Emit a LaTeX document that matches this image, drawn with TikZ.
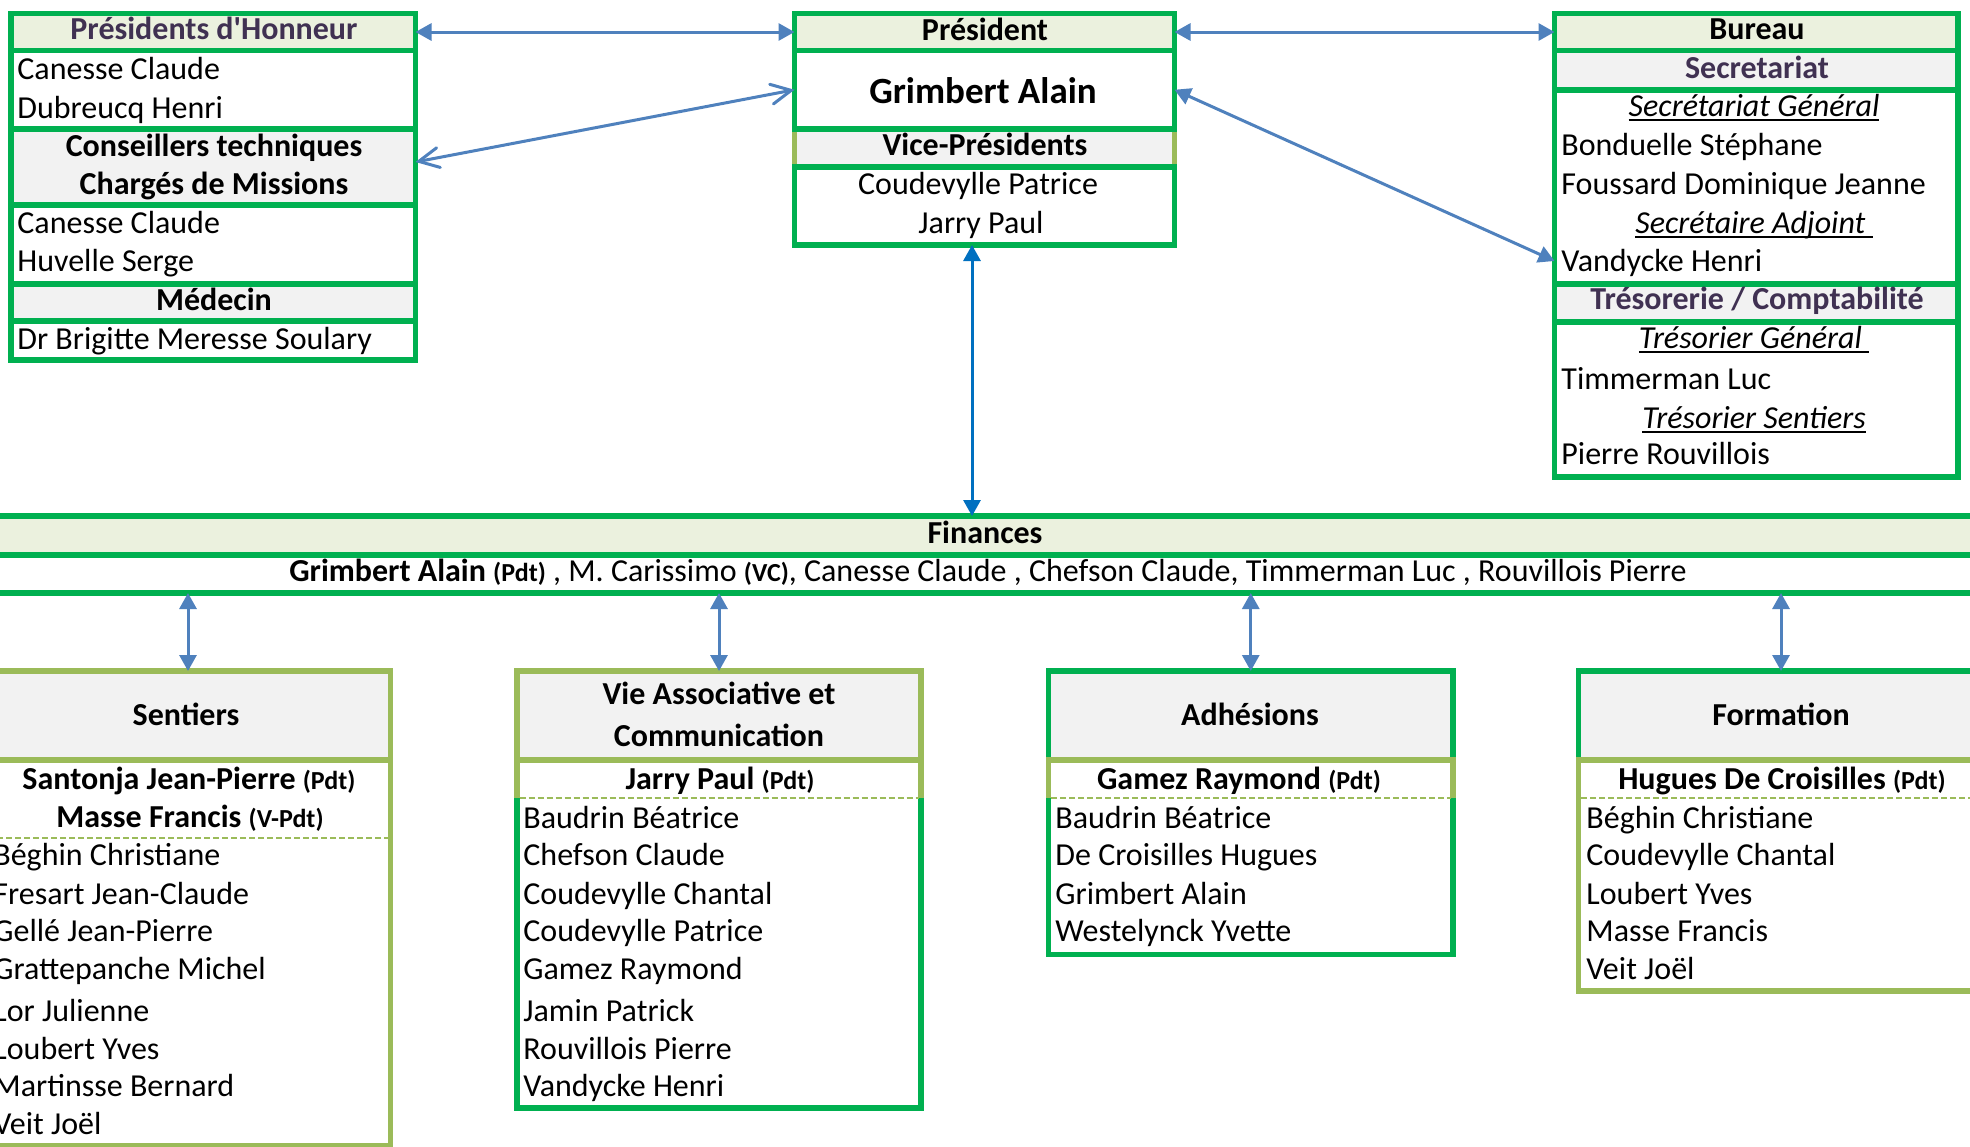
\documentclass[tikz,border=0pt]{standalone}
\usepackage{fontspec}
\setmainfont{Carlito}
\usetikzlibrary{arrows.meta}
\definecolor{grn}{HTML}{00B050}
\definecolor{olv}{HTML}{9BBB59}
\definecolor{lgr}{HTML}{EBF1DE}
\definecolor{gry}{HTML}{F2F2F2}
\definecolor{pur}{HTML}{403152}
\definecolor{abl}{HTML}{4F81BD}
\definecolor{bbl}{HTML}{0070C0}
\newsavebox\ulbox
\newcommand\myul[1]{\sbox\ulbox{#1}\rlap{\rule[-2.2pt]{\wd\ulbox}{1pt}}\usebox\ulbox}
\newcommand\nsz{\fontsize{16}{19}\selectfont}
\newcommand\psz{\fontsize{13}{15}\selectfont\bfseries}
\newcommand\rowrect[6]{%
  \pgfmathsetmacro\rcx{(#2+#4)/2}%
  \pgfmathsetmacro\rcy{(#3+#5)/2}%
  \pgfmathsetmacro\rw{abs(#4-#2)*0.5}%
  \pgfmathsetmacro\rh{abs(#5-#3)*0.5}%
  \node[fill=#6, inner sep=0pt, outer sep=0pt, minimum width=\rw pt, minimum height=\rh pt] (#1) at (\rcx,\rcy) {};}
\tikzset{
  nm/.style={anchor=base west, inner sep=0pt, font=\nsz, yshift=-0.7pt},
  ct/.style={anchor=base, inner sep=0pt, font=\nsz, yshift=-0.7pt},
  hd/.style={anchor=base, inner sep=0pt, font=\nsz\bfseries, yshift=-0.7pt},
  hdp/.style={hd, text=pur},
  gline/.style={draw=grn, line width=2.75pt, line cap=rect, line join=miter},
  oline/.style={draw=olv, line width=2.75pt, line cap=rect, line join=miter},
  dline/.style={draw=olv, line width=1pt, dash pattern=on 3pt off 1.5pt},
  arr/.style={draw=abl, line width=1.5pt, {Triangle[length=8pt,width=8.5pt]}-{Triangle[length=8pt,width=8.5pt]}},
  barr/.style={draw=bbl, line width=1.5pt, {Triangle[length=8pt,width=8.5pt]}-{Triangle[length=8pt,width=8.5pt]}},
  oarr/.style={draw=abl, line width=1.5pt, line cap=round, {Straight Barb[length=10pt,width=10pt,line cap=round]}-{Straight Barb[length=10pt,width=10pt,line cap=round]}}
}
\begin{document}
\begin{tikzpicture}[x=0.5pt,y=-0.5pt]
\useasboundingbox (0,0) rectangle (1970,1146);
\clip (0,0) rectangle (1970,1146);
\fill[white] (0,0) rectangle (1970,1146);
% ---------- fills / row nodes ----------
\rowrect{ph}{11}{13.5}{415.5}{50.5}{lgr}
\rowrect{phn}{11}{50.5}{415.5}{129}{white}
\rowrect{cons}{11}{129}{415.5}{205}{gry}
\rowrect{consn}{11}{205}{415.5}{284}{white}
\rowrect{med}{11}{284}{415.5}{321}{gry}
\rowrect{medn}{11}{321}{415.5}{360}{white}
\rowrect{pres}{794.5}{13.5}{1174.5}{50.5}{lgr}
\rowrect{grim}{794.5}{50.5}{1174.5}{129}{white}
\rowrect{vp}{794.5}{129}{1174.5}{167}{gry}
\rowrect{vpn}{794.5}{167}{1174.5}{245}{white}
\rowrect{bureau}{1554.5}{13.5}{1958}{50.5}{lgr}
\rowrect{sec}{1554.5}{50.5}{1958}{90}{gry}
\rowrect{secn}{1554.5}{90}{1958}{284}{white}
\rowrect{vand}{1554.5}{242}{1958}{280}{white}
\rowrect{tres}{1554.5}{284}{1958}{322}{gry}
\rowrect{tresn}{1554.5}{322}{1958}{477}{white}
\rowrect{fin}{-20}{516}{1990}{555}{lgr}
\rowrect{finn}{-20}{555}{1990}{593}{white}
\rowrect{sent}{-14.5}{671}{390.5}{760}{gry}
\rowrect{sentn}{-14.5}{760}{390.5}{1146}{white}
\rowrect{vie}{517}{671}{921}{760}{gry}
\rowrect{vien}{517}{760}{921}{1108}{white}
\rowrect{adh}{1048.5}{671}{1453}{760}{gry}
\rowrect{adhn}{1048.5}{760}{1453}{954.5}{white}
\rowrect{form}{1578.5}{671}{1983.5}{760}{gry}
\rowrect{formn}{1578.5}{760}{1983.5}{991}{white}
% ---------- borders ----------
\draw[gline] (11,13.5) rectangle (415.5,360);
\foreach \yy in {50.5,129,205,284,321} \draw[gline] (11,\yy) -- (415.5,\yy);
\draw[gline] (794.5,13.5) rectangle (1174.5,245);
\foreach \yy in {50.5,129,167} \draw[gline] (794.5,\yy) -- (1174.5,\yy);
\draw[oline, line cap=butt] (794.5,131.75) -- (794.5,164.25);
\draw[oline, line cap=butt] (1174.5,131.75) -- (1174.5,164.25);
\draw[gline] (1554.5,13.5) rectangle (1958,477);
\foreach \yy in {50.5,90,284,322} \draw[gline] (1554.5,\yy) -- (1958,\yy);
\foreach \yy in {516,555,593} \draw[gline] (-20,\yy) -- (1990,\yy);
% Sentiers
\draw[oline] (-14.5,671) rectangle (390.5,1146);
\draw[oline] (-14.5,760) -- (390.5,760);
\draw[dline] (-12,837.5) -- (388,837.5);
% Vie associative
\draw[gline] (517,671) rectangle (921,1108);
\draw[oline, line cap=butt] (517,798) -- (517,671) -- (921,671) -- (921,798);
\draw[oline] (517,760) -- (921,760);
\draw[dline] (519.5,798) -- (918.5,798);
% Adhesions
\draw[gline] (1048.5,671) rectangle (1453,954.5);
\draw[oline, line cap=butt] (1048.5,760) -- (1048.5,798);
\draw[oline, line cap=butt] (1453,760) -- (1453,798);
\draw[oline] (1048.5,760) -- (1453,760);
\draw[dline] (1051,798) -- (1450.5,798);
% Formation
\draw[oline] (1578.5,760) rectangle (1983.5,991);
\draw[gline, line cap=butt] (1578.5,760) -- (1578.5,671) -- (1983.5,671) -- (1983.5,760);
\draw[oline] (1578.5,760) -- (1983.5,760);
\draw[dline] (1581,798) -- (1981,798);
% ---------- texts ----------
\node[hdp] (t1) at (214,38) {Présidents d\textquotesingle Honneur};
\node[nm] (t2) at (17,78) {Canesse Claude};
\node[nm] (t3) at (17,117) {Dubreucq Henri};
\node[hd] (t4) at (214,155) {Conseillers techniques};
\node[hd] (t5) at (214,193) {Chargés de Missions};
\node[nm] (t6) at (17,232) {Canesse Claude};
\node[nm] (t7) at (17,270) {Huvelle Serge};
\node[hd] (t8) at (214,309) {Médecin};
\node[nm] (t9) at (17,348) {Dr Brigitte Meresse Soulary};
\node[hd] (m1) at (985,39) {Président};
\node[hd, font=\fontsize{18.5}{22}\selectfont\bfseries] (m2) at (983,102) {Grimbert Alain};
\node[hd] (m3) at (985,154) {Vice-Présidents};
\node[ct] (m4) at (978,193) {Coudevylle Patrice};
\node[ct] (m5) at (981,232) {Jarry Paul};
\node[hd] (r1) at (1757,38) {Bureau};
\node[hdp] (r2) at (1757,77) {Secretariat};
\node[ct] (r3) at (1754,115) {\myul{\itshape Secrétariat Général}};
\node[nm] (r4) at (1561,154) {Bonduelle Stéphane};
\node[nm] (r5) at (1561,193) {Foussard Dominique Jeanne};
\node[ct] (r6) at (1754,232) {\myul{\itshape Secrétaire Adjoint\ }};
\node[nm] (r7) at (1561,270) {Vandycke Henri};
\node[hdp] (r8) at (1757,308) {Trésorerie / Comptabilité};
\node[ct] (r9) at (1754,347) {\myul{\itshape Trésorier Général\ }};
\node[nm] (r10) at (1561,388) {Timmerman Luc};
\node[ct] (r11) at (1754,427) {\myul{\itshape Trésorier Sentiers}};
\node[nm] (r12) at (1561,463) {Pierre Rouvillois};
\node[hd] (f1) at (985,542) {Finances};
\node[ct] (f2) at (988,580) {\textbf{Grimbert Alain} {\psz (Pdt)} , M. Carissimo {\psz (VC)}, Canesse Claude , Chefson Claude, Timmerman Luc , Rouvillois Pierre};
% Sentiers
\node[hd] (s0) at (186,724) {Sentiers};
\node[hd] (s1) at (189,788) {Santonja Jean-Pierre {\psz(Pdt)}};
\node[hd] (s2) at (190,826) {Masse Francis {\psz(V-Pdt)}};
\node[nm] (s3) at (-7,864) {Béghin Christiane};
\node[nm] (s4) at (-7,903) {Fresart Jean-Claude};
\node[nm] (s5) at (-7,940) {Gellé Jean-Pierre};
\node[nm] (s6) at (-7,978) {Grattepanche Michel};
\node[nm] (s7) at (-7,1020) {Lor Julienne};
\node[nm] (s8) at (-7,1058) {Loubert Yves};
\node[nm] (s9) at (-7,1095) {Martinsse Bernard};
\node[nm] (s10) at (-7,1133) {Veit Joël};
% Vie associative
\node[hd] (v0) at (719,703) {Vie Associative et};
\node[hd] (v1) at (719,745) {Communication};
\node[hd] (v2) at (720,788) {Jarry Paul {\psz(Pdt)}};
\node[nm] (v3) at (523,827) {Baudrin Béatrice};
\node[nm] (v4) at (523,864) {Chefson Claude};
\node[nm] (v5) at (523,903) {Coudevylle Chantal};
\node[nm] (v6) at (523,940) {Coudevylle Patrice};
\node[nm] (v7) at (523,978) {Gamez Raymond};
\node[nm] (v8) at (523,1020) {Jamin Patrick};
\node[nm] (v9) at (523,1058) {Rouvillois Pierre};
\node[nm] (v10) at (523,1095) {Vandycke Henri};
% Adhesions
\node[hd] (a0) at (1250,724) {Adhésions};
\node[hd] (a1) at (1239,788) {Gamez Raymond {\psz(Pdt)}};
\node[nm] (a2) at (1055,827) {Baudrin Béatrice};
\node[nm] (a3) at (1055,864) {De Croisilles Hugues};
\node[nm] (a4) at (1055,903) {Grimbert Alain};
\node[nm] (a5) at (1055,940) {Westelynck Yvette};
% Formation
\node[hd] (o0) at (1781,724) {Formation};
\node[hd] (o1) at (1782,788) {Hugues De Croisilles {\psz(Pdt)}};
\node[nm] (o2) at (1586,827) {Béghin Christiane};
\node[nm] (o3) at (1586,864) {Coudevylle Chantal};
\node[nm] (o4) at (1586,903) {Loubert Yves};
\node[nm] (o5) at (1586,940) {Masse Francis};
\node[nm] (o6) at (1586,978) {Veit Joël};
% ---------- connectors ----------
\draw[arr] (ph.east) -- (pres.west);
\draw[arr] (pres.east) -- (bureau.west);
\draw[oarr] ([yshift=2.5pt]cons.east) -- (grim.west);
\draw[arr] (grim.east) -- (vand.west);
\draw[barr] ([xshift=-6.25pt]vpn.south) -- ([xshift=-6.25pt]vpn.south |- fin.north);
\draw[arr] (finn.south -| sent.north) -- (sent.north);
\draw[arr] (finn.south -| vie.north) -- (vie.north);
\draw[arr] (finn.south -| adh.north) -- (adh.north);
\draw[arr] (finn.south -| form.north) -- (form.north);
\end{tikzpicture}
\end{document}
